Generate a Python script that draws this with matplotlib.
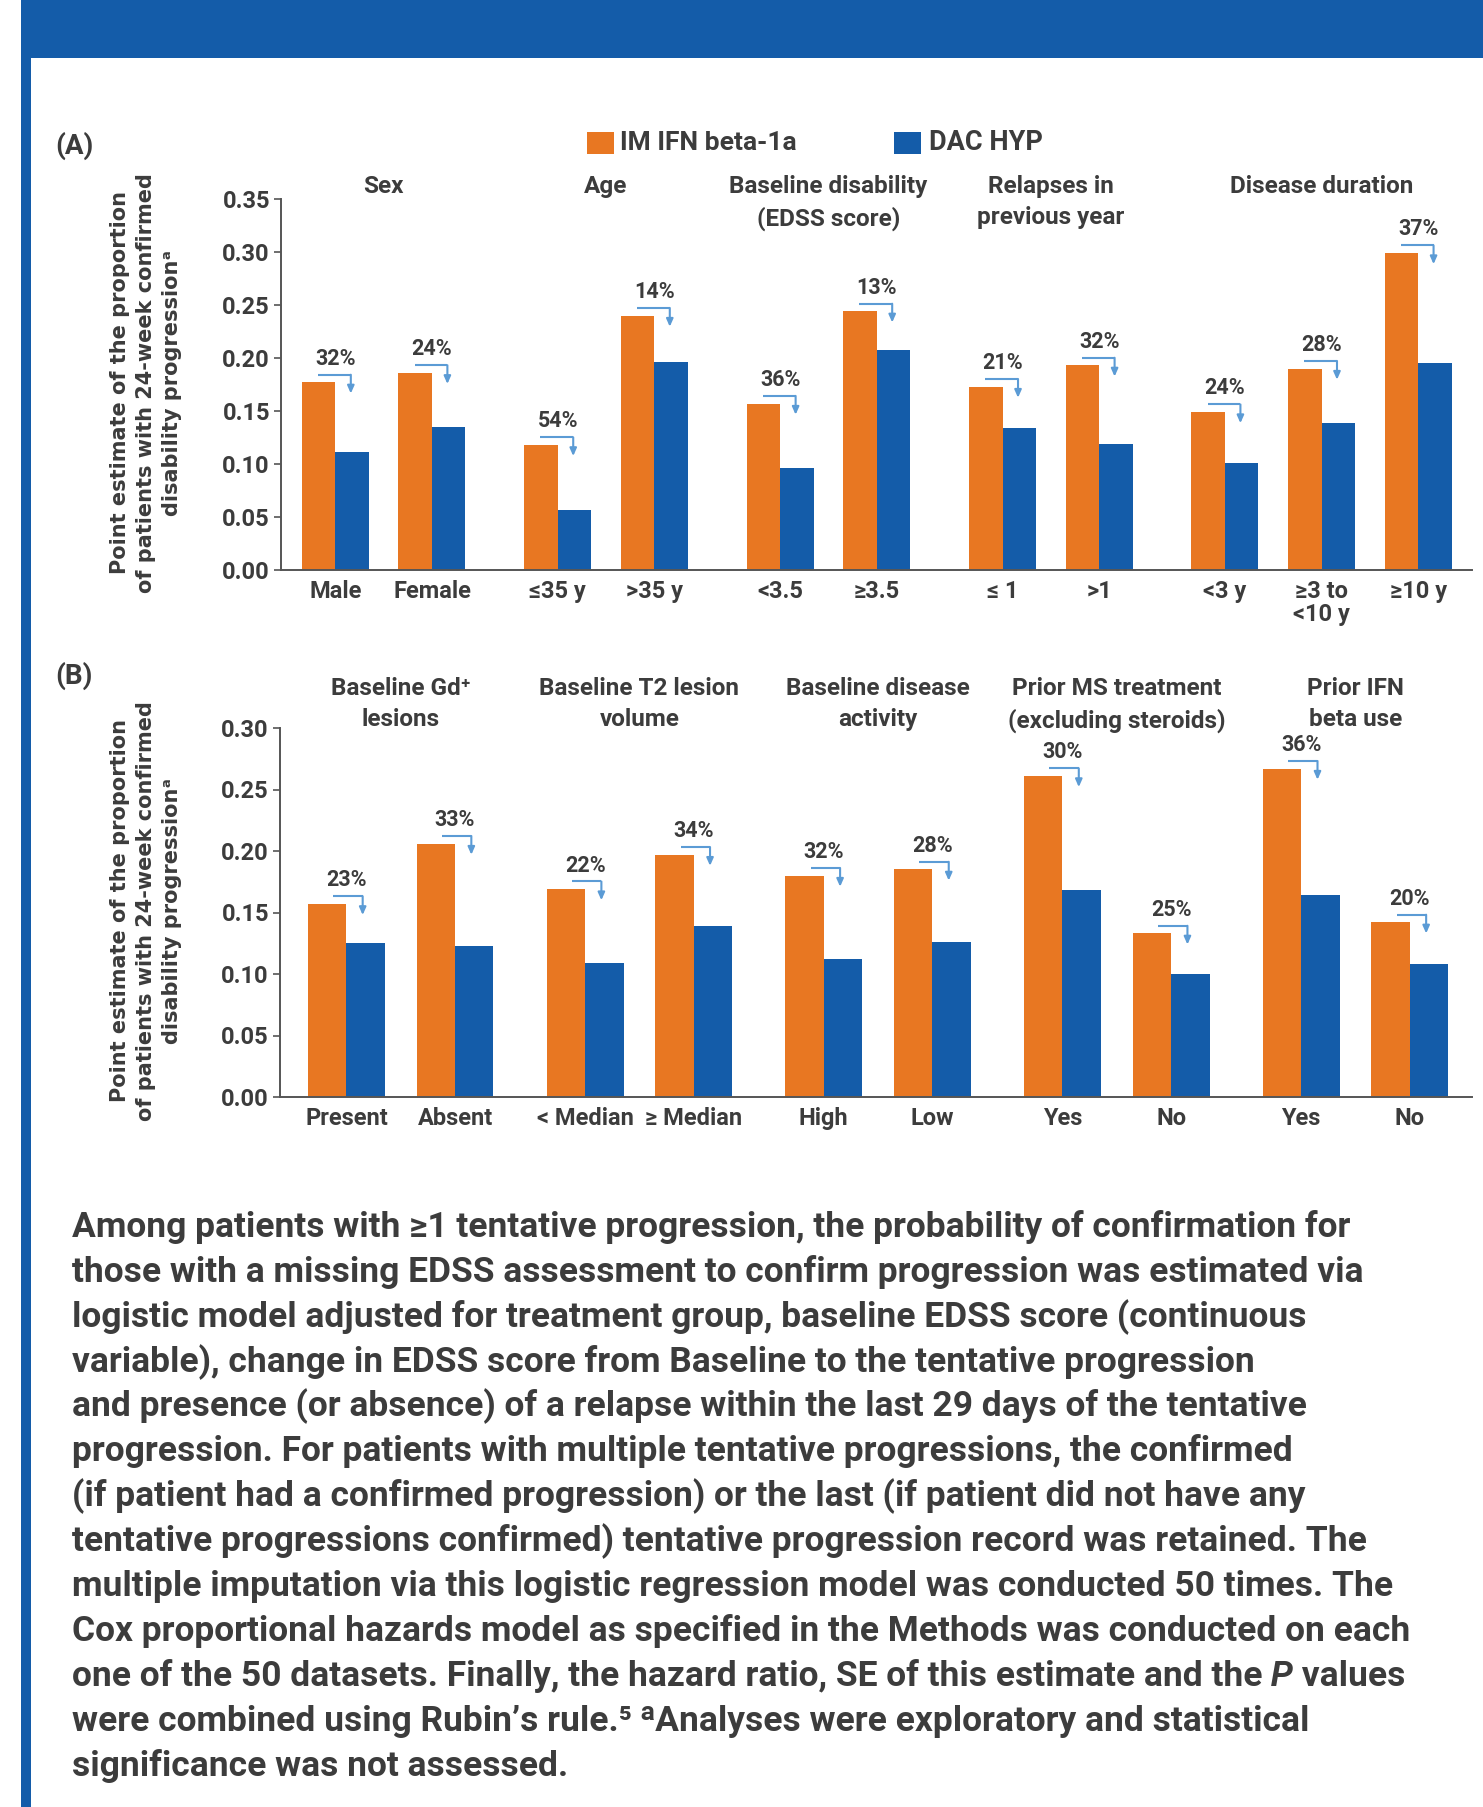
import numpy as np
import matplotlib.pyplot as plt
from matplotlib.patches import Rectangle
from matplotlib.transforms import offset_copy, blended_transform_factory

# ---- data ----
top_groups = ["Sex", "Age", "Baseline disability\n(EDSS score)", "Relapses in\nprevious year", "Disease duration"]
top_sizes = [2, 2, 2, 2, 3]
top_cats = ["Male", "Female", "≤35 y", ">35 y", "<3.5", "≥3.5", "≤ 1", ">1", "<3 y", "≥3 to\n<10 y", "≥10 y"]
top_ifn = [0.177, 0.186, 0.118, 0.240, 0.157, 0.244, 0.173, 0.193, 0.149, 0.190, 0.299]
top_dac = [0.111, 0.135, 0.057, 0.196, 0.096, 0.208, 0.134, 0.119, 0.101, 0.139, 0.195]
top_pct = ["32%", "24%", "54%", "14%", "36%", "13%", "21%", "32%", "24%", "28%", "37%"]

bot_groups = ["Baseline Gd⁺\nlesions", "Baseline T2 lesion\nvolume", "Baseline disease\nactivity",
              "Prior MS treatment\n(excluding steroids)", "Prior IFN\nbeta use"]
bot_sizes = [2, 2, 2, 2, 2]
bot_cats = ["Present", "Absent", "< Median", "≥ Median", "High", "Low", "Yes", "No", "Yes", "No"]
bot_ifn = [0.157, 0.206, 0.169, 0.197, 0.180, 0.185, 0.261, 0.133, 0.267, 0.142]
bot_dac = [0.125, 0.123, 0.109, 0.139, 0.112, 0.126, 0.168, 0.100, 0.164, 0.108]
bot_pct = ["23%", "33%", "22%", "34%", "32%", "28%", "30%", "25%", "36%", "20%"]

ylabel = "Point estimate of the proportion\nof patients with 24-week confirmed\ndisability progressionᵃ"

# each line is a list of (text, italic) pieces
note_lines = [
    [("Among patients with ≥1 tentative progression, the probability of confirmation for", False)],
    [("those with a missing EDSS assessment to confirm progression was estimated via", False)],
    [("logistic model adjusted for treatment group, baseline EDSS score (continuous", False)],
    [("variable), change in EDSS score from Baseline to the tentative progression", False)],
    [("and presence (or absence) of a relapse within the last 29 days of the tentative", False)],
    [("progression. For patients with multiple tentative progressions, the confirmed", False)],
    [("(if patient had a confirmed progression) or the last (if patient did not have any", False)],
    [("tentative progressions confirmed) tentative progression record was retained. The", False)],
    [("multiple imputation via this logistic regression model was conducted 50 times. The", False)],
    [("Cox proportional hazards model as specified in the Methods was conducted on each", False)],
    [("one of the 50 datasets. Finally, the hazard ratio, SE of this estimate and the", False),
     (" P", True), (" values", False)],
    [("were combined using Rubin’s rule.⁵ ᵃAnalyses were exploratory and statistical", False)],
    [("significance was not assessed.", False)],
]

ORANGE = "#E87722"
BLUE = "#145CA9"
ARROW = "#5B9BD5"
TXT = "#3c3c3c"
NARROW = ["Roboto", "DejaVu Sans"]
WIDE = ["DejaVu Sans"]

W, H = 1483, 1807
fig = plt.figure(figsize=(W / 100, H / 100), dpi=100)


def fx(px):
    return px / W


def fy(py):
    return 1 - py / H


def positions(sizes, gap):
    pos, x = [], 0.0
    for s in sizes:
        for i in range(s):
            pos.append(x)
            x += 1
        x += gap - 1
    return np.array(pos)


def panel(rect, groups, sizes, cats, ifn, dac, pct, gap, xlim, ymax, bw, arr, title_y):
    ax = fig.add_axes(rect)
    pos = positions(sizes, gap)
    ax.bar(pos - bw / 2, ifn, width=bw, color=ORANGE, linewidth=0)
    ax.bar(pos + bw / 2, dac, width=bw, color=BLUE, linewidth=0)
    ax.set_xlim(*xlim)
    ax.set_ylim(0, ymax)
    ax.set_yticks(np.arange(0, ymax + 0.001, 0.05))
    ax.set_yticklabels([f"{v:.2f}" for v in np.arange(0, ymax + 0.001, 0.05)])
    ax.set_xticks(pos)
    ax.set_xticklabels(cats, linespacing=1.0)
    for s in ["top", "right"]:
        ax.spines[s].set_visible(False)
    for s in ["left", "bottom"]:
        ax.spines[s].set_color("#555555")
        ax.spines[s].set_linewidth(1.4)
    ax.tick_params(axis="x", length=0, pad=7, colors=TXT)
    ax.tick_params(axis="y", length=5, width=1.2, color="#555555", pad=3, colors=TXT)
    for lab in ax.get_xticklabels() + ax.get_yticklabels():
        lab.set_fontfamily(NARROW)
        lab.set_fontweight("bold")
        lab.set_fontsize(17)
        lab.set_color(TXT)

    # percentage reduction brackets
    t_line = offset_copy(ax.transData, fig=fig, y=5.5, units="points")
    t_tip = offset_copy(ax.transData, fig=fig, y=-8, units="points")
    t_txt = offset_copy(ax.transData, fig=fig, y=17, units="points")
    for x, v, p in zip(pos, ifn, pct):
        ax.plot([x + arr[0], x + arr[1]], [v, v], color=ARROW, lw=1.5,
                transform=t_line, solid_capstyle="butt", clip_on=False)
        ax.annotate("", xy=(x + arr[1], v), xycoords=t_tip,
                    xytext=(x + arr[1], v), textcoords=t_line,
                    arrowprops=dict(arrowstyle="-|>,head_length=0.45,head_width=0.2",
                                    color=ARROW, lw=1.5, shrinkA=0, shrinkB=0))
        ax.text(x, v, p, transform=t_txt, ha="center", va="center",
                fontsize=15.5, fontweight="bold", family=NARROW, color=TXT)

    # group titles
    tr = blended_transform_factory(ax.transData, ax.transAxes)
    i = 0
    for g, s in zip(groups, sizes):
        cx = pos[i:i + s].mean()
        ax.text(cx, title_y, g, transform=tr, ha="center", va="top",
                fontsize=17.5, fontweight="bold", family=NARROW, color=TXT,
                linespacing=1.45)
        i += s
    return ax


# panel A
panel([fx(281), fy(570), fx(1472) - fx(281), fy(199) - fy(570)],
      top_groups, top_sizes, top_cats, top_ifn, top_dac, top_pct,
      gap=1.303, xlim=(-0.563, 11.77), ymax=0.35, bw=0.347, arr=(-0.18, 0.16), title_y=1.066)

# panel B
axb = panel([fx(280), fy(1097), fx(1472) - fx(280), fy(728) - fy(1097)],
            bot_groups, bot_sizes, bot_cats, bot_ifn, bot_dac, bot_pct,
            gap=1.197, xlim=(-0.611, 10.36), ymax=0.30, bw=0.354, arr=(-0.12, 0.15), title_y=1.138)

# y labels
for cy in [383, 911]:
    fig.text(fx(146), fy(cy), ylabel, rotation=90, ha="center", va="center",
             fontsize=15, fontweight="bold", family=WIDE, color=TXT,
             linespacing=1.35, multialignment="center")

# panel letters
fig.text(fx(55), fy(146), "(A)", ha="left", va="center", fontsize=20,
         fontweight="bold", family=NARROW, color=TXT)
fig.text(fx(55), fy(676), "(B)", ha="left", va="center", fontsize=20,
         fontweight="bold", family=NARROW, color=TXT)

# legend
fig.add_artist(Rectangle((fx(587), fy(154)), fx(27), fy(132) - fy(154),
                         transform=fig.transFigure, color=ORANGE, lw=0))
fig.text(fx(620), fy(143), "IM IFN beta-1a", ha="left", va="center", fontsize=19,
         fontweight="bold", family=NARROW, color=TXT)
fig.add_artist(Rectangle((fx(894), fy(154)), fx(27), fy(132) - fy(154),
                         transform=fig.transFigure, color=BLUE, lw=0))
fig.text(fx(929), fy(143), "DAC HYP", ha="left", va="center", fontsize=19.5,
         fontweight="bold", family=NARROW, color=TXT)

# header band and left rule
fig.add_artist(Rectangle((fx(21), fy(58)), 1 - fx(21), fy(0) - fy(58),
                         transform=fig.transFigure, color=BLUE, lw=0))
fig.add_artist(Rectangle((fx(21), 0), fx(10), 1,
                         transform=fig.transFigure, color=BLUE, lw=0))

# footnote paragraph
for k, pieces in enumerate(note_lines):
    prev = None
    for txt, ital in pieces:
        style = "italic" if ital else "normal"
        if prev is None:
            prev = fig.text(fx(72), fy(1237 + k * 44.9), txt, ha="left", va="baseline",
                            fontsize=25.5, fontweight="bold", family=NARROW, color=TXT,
                            fontstyle=style)
        else:
            prev = axb.annotate(txt, xy=(1, 0), xycoords=prev, ha="left", va="bottom",
                                fontsize=25.5, fontweight="bold", family=NARROW, color=TXT,
                                fontstyle=style, annotation_clip=False)

fig.savefig("out.png", dpi=100)
